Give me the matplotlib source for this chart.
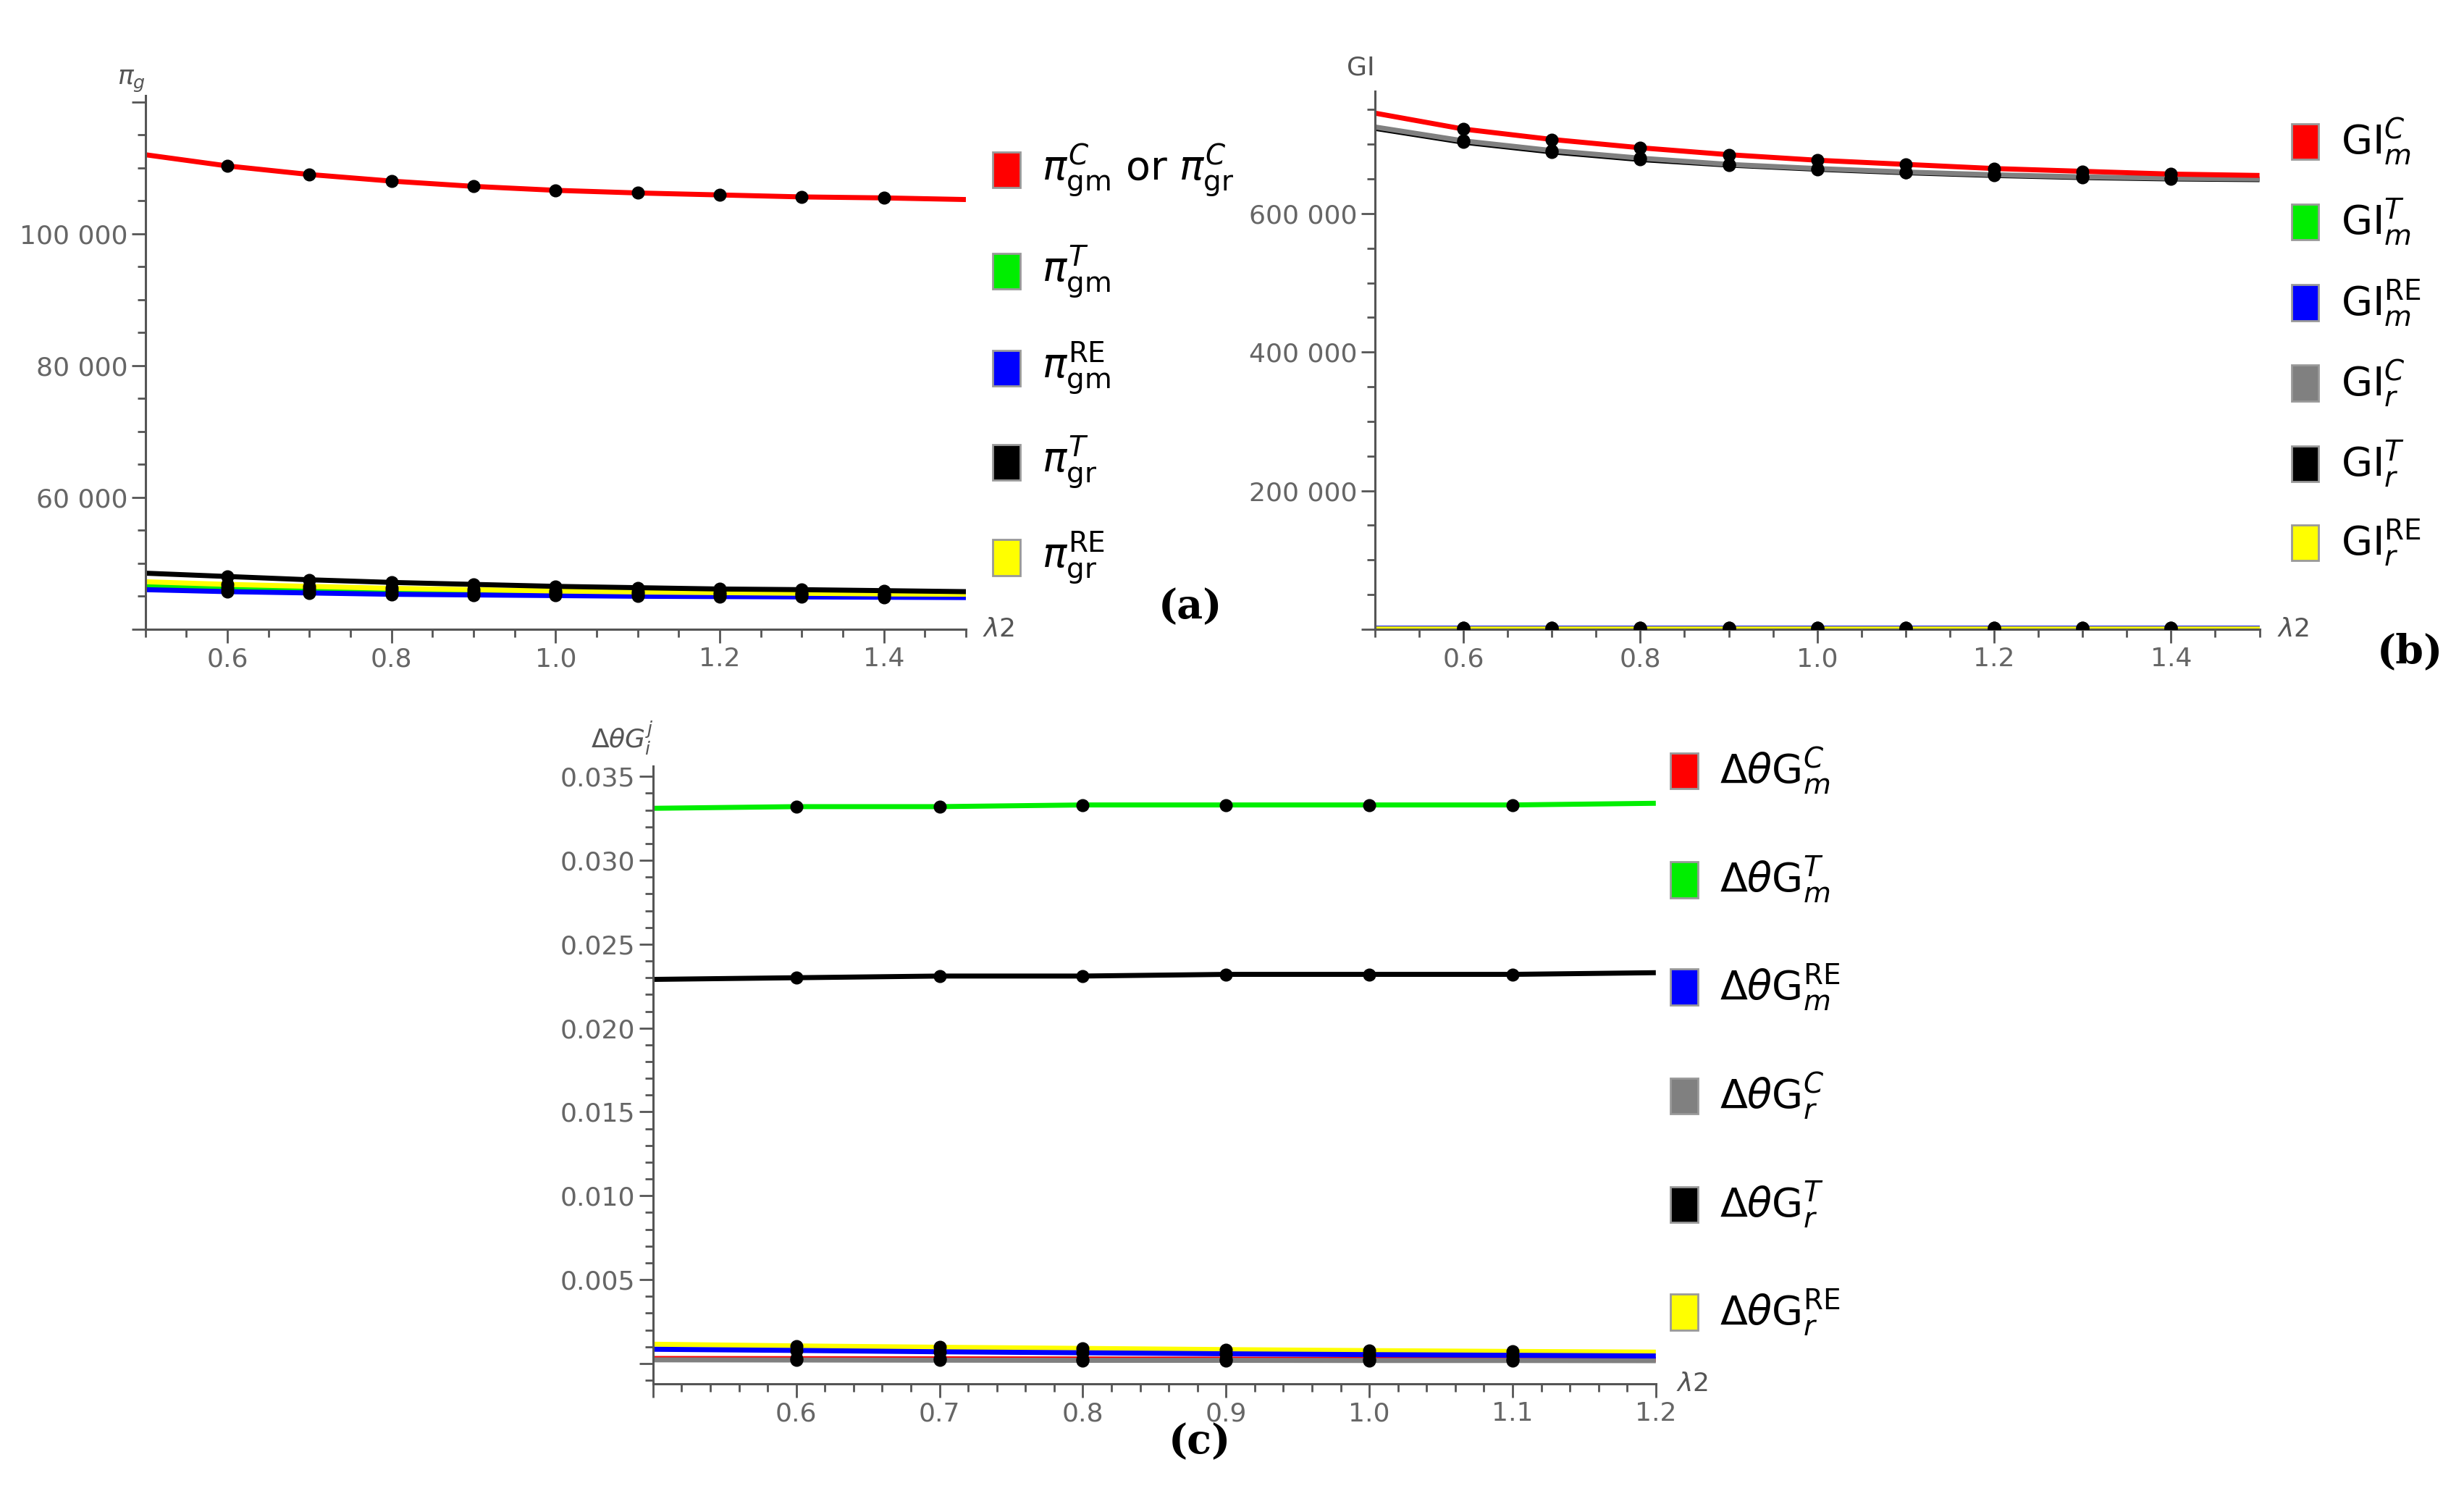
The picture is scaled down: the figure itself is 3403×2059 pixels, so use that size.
import numpy as np
import matplotlib
matplotlib.use("Agg")
import matplotlib.pyplot as plt
from matplotlib.patches import Rectangle
from matplotlib.ticker import MultipleLocator, FuncFormatter

plt.rcParams["mathtext.fontset"] = "dejavusans"

# ---- data -----------------------------------------------------------
lam_a = [0.5, 0.6, 0.7, 0.8, 0.9, 1.0, 1.1, 1.2, 1.3, 1.4, 1.5]
pi_gm_C = [112000, 110300, 109000, 108000, 107200, 106600, 106200, 105900, 105600, 105450, 105200]
pi_gm_T = [46600, 46300, 46000, 45800, 45600, 45500, 45400, 45300, 45250, 45200, 45150]
pi_gm_RE = [46000, 45700, 45500, 45300, 45200, 45100, 45000, 44950, 44900, 44850, 44800]
pi_gr_T = [48500, 48000, 47500, 47100, 46800, 46500, 46300, 46100, 46000, 45850, 45700]
pi_gr_RE = [47200, 46800, 46500, 46200, 46000, 45800, 45650, 45550, 45450, 45350, 45300]

GI_m_C = [745000, 722000, 707000, 695000, 685000, 677000, 671000, 665000, 661000, 657000, 655000]
GI_m_T = [2000] * 11
GI_m_RE = [1500] * 11
GI_r_C = [725000, 705000, 691000, 680000, 671000, 665000, 660000, 656000, 653000, 651000, 650000]
GI_r_T = [723000, 703000, 689000, 678000, 670000, 664000, 659000, 655000, 652000, 650000, 649000]
GI_r_RE = [1000] * 11

lam_c = [0.5, 0.6, 0.7, 0.8, 0.9, 1.0, 1.1, 1.2]
dG_m_C = [0.00030, 0.00029, 0.00028, 0.00027, 0.00026, 0.00025, 0.00025, 0.00024]
dG_m_T = [0.0331, 0.0332, 0.0332, 0.0333, 0.0333, 0.0333, 0.0333, 0.0334]
dG_m_RE = [0.00085, 0.00078, 0.00070, 0.00064, 0.00058, 0.00053, 0.00049, 0.00045]
dG_r_C = [0.00022, 0.00021, 0.00020, 0.00019, 0.00019, 0.00018, 0.00018, 0.00017]
dG_r_T = [0.0229, 0.0230, 0.0231, 0.0231, 0.0232, 0.0232, 0.0232, 0.0233]
dG_r_RE = [0.00115, 0.00105, 0.00097, 0.00090, 0.00083, 0.00077, 0.00072, 0.00068]

RED, GREEN, BLUE, GRAY, BLACK, YELLOW = "#ff0000", "#00ee00", "#0000ff", "#808080", "#000000", "#ffff00"

fig = plt.figure(figsize=(34.03, 20.59), dpi=100)


def style(ax, xlim, ylim, xmaj, xmin, ymaj, ymin, yfmt, xshow):
    ax.set_xlim(*xlim)
    ax.set_ylim(*ylim)
    for s in ("top", "right"):
        ax.spines[s].set_visible(False)
    for s in ("left", "bottom"):
        ax.spines[s].set_color("#555555")
        ax.spines[s].set_linewidth(2.2)
    ax.xaxis.set_major_locator(MultipleLocator(xmaj))
    ax.xaxis.set_minor_locator(MultipleLocator(xmin))
    ax.yaxis.set_major_locator(MultipleLocator(ymaj))
    ax.yaxis.set_minor_locator(MultipleLocator(ymin))
    ax.tick_params(which="both", colors="#555555", labelcolor="#666666", labelsize=26, width=2)
    ax.tick_params(which="major", length=14)
    ax.tick_params(which="minor", length=8)
    ax.yaxis.set_major_formatter(FuncFormatter(yfmt))
    ax.xaxis.set_major_formatter(FuncFormatter(
        lambda v, p: f"{v:.1f}" if xshow[0] - 1e-6 <= v <= xshow[1] + 1e-6 else ""))
    ax.set_facecolor("none")


def series(ax, x, y, c, dots, lw=5):
    ax.plot(x, y, color=c, lw=lw, solid_capstyle="butt", zorder=2)
    xs = [v for v in x if v in dots]
    ys = [y[x.index(v)] for v in xs]
    ax.plot(xs, ys, "o", color="black", ms=12, zorder=3)


def legend(items, x0, ys, fs=40):
    for (c, lab), y in zip(items, ys):
        fig.patches.append(Rectangle((x0, y - 0.012), 0.011, 0.024, transform=fig.transFigure,
                                     facecolor=c, edgecolor="#999999", lw=2))
        fig.text(x0 + 0.02, y, lab, fontsize=fs, va="center", ha="left")


# ---- (a) ----
ax = fig.add_axes([0.059, 0.578, 0.333, 0.358])
style(ax, (0.5, 1.5), (40000, 121000), 0.2, 0.05, 20000, 5000,
      lambda v, p: f"{int(v):,}".replace(",", " ") if 60000 <= v <= 110000 else "", (0.6, 1.4))
dots_a = [0.6, 0.7, 0.8, 0.9, 1.0, 1.1, 1.2, 1.3, 1.4]
for y, c in [(pi_gm_C, RED), (pi_gm_T, GREEN), (pi_gm_RE, BLUE), (pi_gr_RE, YELLOW), (pi_gr_T, BLACK)]:
    series(ax, lam_a, y, c, dots_a)
ax.text(0.0, 1.02, r"$\pi_g$", transform=ax.transAxes, fontsize=26, color="#555555", ha="right")
ax.text(1.02, 0.0, r"$\lambda 2$", transform=ax.transAxes, fontsize=26, color="#555555", va="center")
fig.text(0.483, 0.585, "(a)", fontsize=40, family="DejaVu Serif", weight="bold", ha="center")
legend([(RED, r"$\pi_{\mathrm{gm}}^{C}$ or $\pi_{\mathrm{gr}}^{C}$"), (GREEN, r"$\pi_{\mathrm{gm}}^{T}$"),
        (BLUE, r"$\pi_{\mathrm{gm}}^{\mathrm{RE}}$"), (BLACK, r"$\pi_{\mathrm{gr}}^{T}$"),
        (YELLOW, r"$\pi_{\mathrm{gr}}^{\mathrm{RE}}$")],
       0.403, [0.886, 0.818, 0.753, 0.690, 0.626])

# ---- (b) ----
ax = fig.add_axes([0.558, 0.578, 0.359, 0.361])
style(ax, (0.5, 1.5), (0, 777000), 0.2, 0.05, 200000, 50000,
      lambda v, p: f"{int(v):,}".replace(",", " ") if v > 0 else "", (0.6, 1.4))
for y, c in [(GI_m_T, GREEN), (GI_m_RE, BLUE), (GI_r_RE, YELLOW), (GI_r_T, BLACK), (GI_r_C, GRAY), (GI_m_C, RED)]:
    series(ax, lam_a, y, c, dots_a)
ax.text(0.0, 1.03, "GI", transform=ax.transAxes, fontsize=26, color="#555555", ha="right")
ax.text(1.02, 0.0, r"$\lambda 2$", transform=ax.transAxes, fontsize=26, color="#555555", va="center")
fig.text(0.978, 0.555, "(b)", fontsize=40, family="DejaVu Serif", weight="bold", ha="center")
legend([(RED, r"GI$_m^{C}$"), (GREEN, r"GI$_m^{T}$"), (BLUE, r"GI$_m^{\mathrm{RE}}$"),
        (GRAY, r"GI$_r^{C}$"), (BLACK, r"GI$_r^{T}$"), (YELLOW, r"GI$_r^{\mathrm{RE}}$")],
       0.930, [0.905, 0.851, 0.797, 0.743, 0.689, 0.636])

# ---- (c) ----
ax = fig.add_axes([0.265, 0.072, 0.407, 0.414])
style(ax, (0.5, 1.2), (-0.0012, 0.0356), 0.1, 0.02, 0.005, 0.001,
      lambda v, p: f"{v:.3f}" if v > 0.001 else "", (0.6, 1.2))
dots_c = [0.6, 0.7, 0.8, 0.9, 1.0, 1.1]
for y, c in [(dG_m_C, RED), (dG_r_C, GRAY), (dG_r_RE, YELLOW), (dG_m_RE, BLUE), (dG_r_T, BLACK), (dG_m_T, GREEN)]:
    series(ax, lam_c, y, c, dots_c)
ax.text(0.0, 1.03, r"$\Delta\theta G_i^j$", transform=ax.transAxes, fontsize=26, color="#555555", ha="right")
ax.text(1.02, 0.0, r"$\lambda 2$", transform=ax.transAxes, fontsize=26, color="#555555", va="center")
fig.text(0.487, 0.025, "(c)", fontsize=40, family="DejaVu Serif", weight="bold", ha="center")
legend([(RED, r"$\Delta\theta$G$_m^{C}$"), (GREEN, r"$\Delta\theta$G$_m^{T}$"),
        (BLUE, r"$\Delta\theta$G$_m^{\mathrm{RE}}$"), (GRAY, r"$\Delta\theta$G$_r^{C}$"),
        (BLACK, r"$\Delta\theta$G$_r^{T}$"), (YELLOW, r"$\Delta\theta$G$_r^{\mathrm{RE}}$")],
       0.678, [0.483, 0.410, 0.338, 0.265, 0.192, 0.120])

fig.savefig("out.png", dpi=100)
